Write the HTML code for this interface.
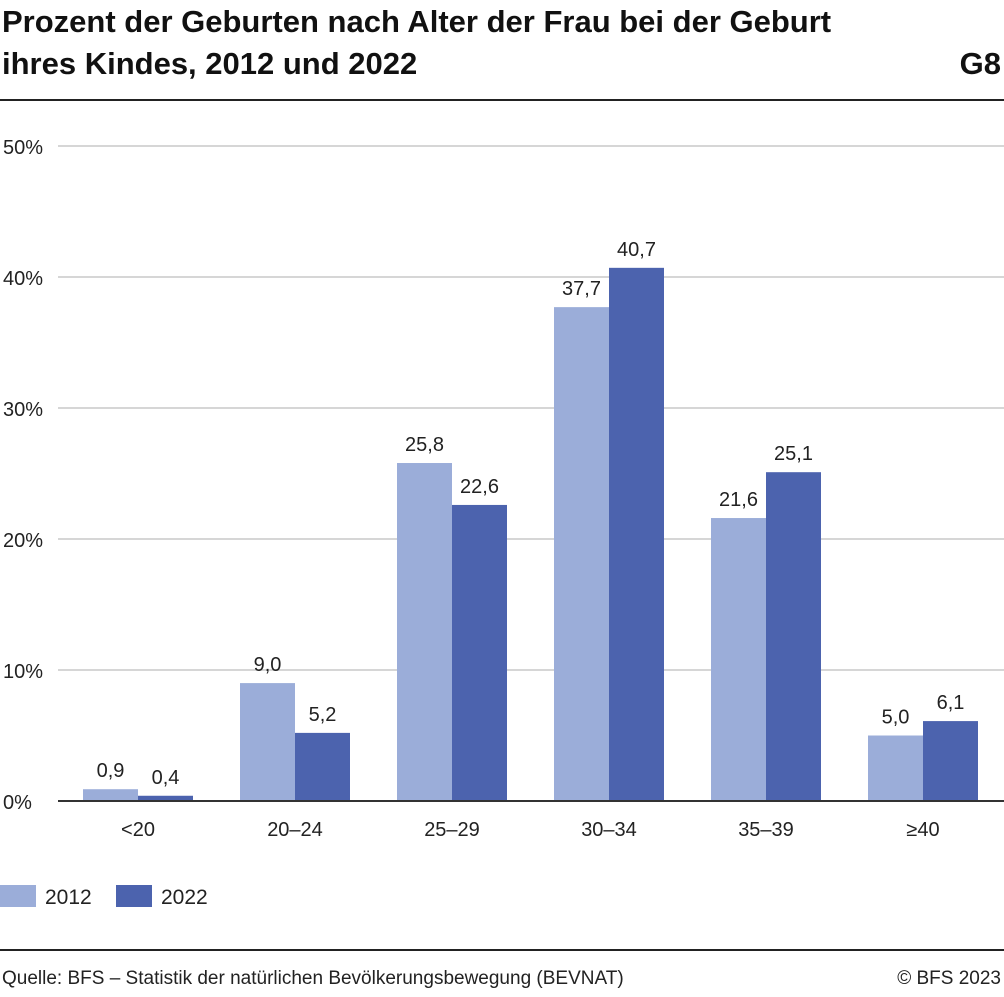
<!DOCTYPE html>
<html><head><meta charset="utf-8"><style>
body{margin:0;width:1004px;height:992px;background:#fff;font-family:"Liberation Sans",sans-serif;overflow:hidden}
</style></head><body>
<svg width="1004" height="992" xmlns="http://www.w3.org/2000/svg" font-family="Liberation Sans, sans-serif">
<text x="2" y="32" font-size="31" font-weight="bold" fill="#111">Prozent der Geburten nach Alter der Frau bei der Geburt</text>
<text x="2" y="74" font-size="31" font-weight="bold" fill="#111">ihres Kindes, 2012 und 2022</text>
<text x="1001" y="74" font-size="31" font-weight="bold" fill="#111" text-anchor="end">G8</text>
<rect x="0" y="99" width="1004" height="2" fill="#222"/>
<g id="grid"></g>
<g id="bars"></g>
<rect x="0" y="885" width="36" height="22" fill="#9badd9"/>
<text x="45" y="904" font-size="21" fill="#222">2012</text>
<rect x="116" y="885" width="36" height="22" fill="#4c63ae"/>
<text x="161" y="904" font-size="21" fill="#222">2022</text>
<rect x="0" y="949" width="1004" height="2" fill="#222"/>
<text x="2" y="984" font-size="19" fill="#222">Quelle: BFS – Statistik der natürlichen Bevölkerungsbewegung (BEVNAT)</text>
<text x="1001" y="984" font-size="19" fill="#222" text-anchor="end">© BFS 2023</text>
</svg>
<script>
const categories=["<20","20–24","25–29","30–34","35–39","≥40"];
const values2012=[0.9,9.0,25.8,37.7,21.6,5.0];
const values2022=[0.4,5.2,22.6,40.7,25.1,6.1];
const yTicks=[0,10,20,30,40,50];
const NS="http://www.w3.org/2000/svg";
const y0=801,pxPer=13.1;
const yScale=v=>y0-v*pxPer;
const xCenter=i=>138+i*157;
const barW=55;
function mk(tag,attrs,parent,txt){const e=document.createElementNS(NS,tag);for(const k in attrs)e.setAttribute(k,attrs[k]);if(txt!==undefined)e.textContent=txt;parent.appendChild(e);return e;}
const grid=document.getElementById('grid'),bars=document.getElementById('bars');
yTicks.forEach(t=>{
 if(t>0){const l=mk('line',{x1:58,x2:1004,y1:yScale(t),y2:yScale(t),stroke:'#c8c8c8','stroke-width':1.5},grid);
 
 }
 const tx=mk('text',{x:3,y:yScale(t)+8,'font-size':20,fill:'#222'},grid,t+'%');
 
 
});
categories.forEach((c,i)=>{
 const cx=xCenter(i);
 [[values2012[i],cx-barW,'#9badd9','2012'],[values2022[i],cx,'#4c63ae','2022']].forEach(([v,x,col,yr])=>{
  const r=mk('rect',{x:x,y:yScale(v),width:barW,height:y0-yScale(v),fill:col},bars);
  
  
  const t=mk('text',{x:x+barW/2,y:yScale(v)-12,'font-size':20,fill:'#222','text-anchor':'middle'},bars,v.toFixed(1).replace('.',','));
  
  
 });
 const xl=mk('text',{x:cx,y:836,'font-size':20,fill:'#222','text-anchor':'middle'},bars,c);
 
 
});
const ax=mk('line',{x1:58,x2:1004,y1:y0,y2:y0,stroke:'#333','stroke-width':2},bars);


</script>
</body></html>
